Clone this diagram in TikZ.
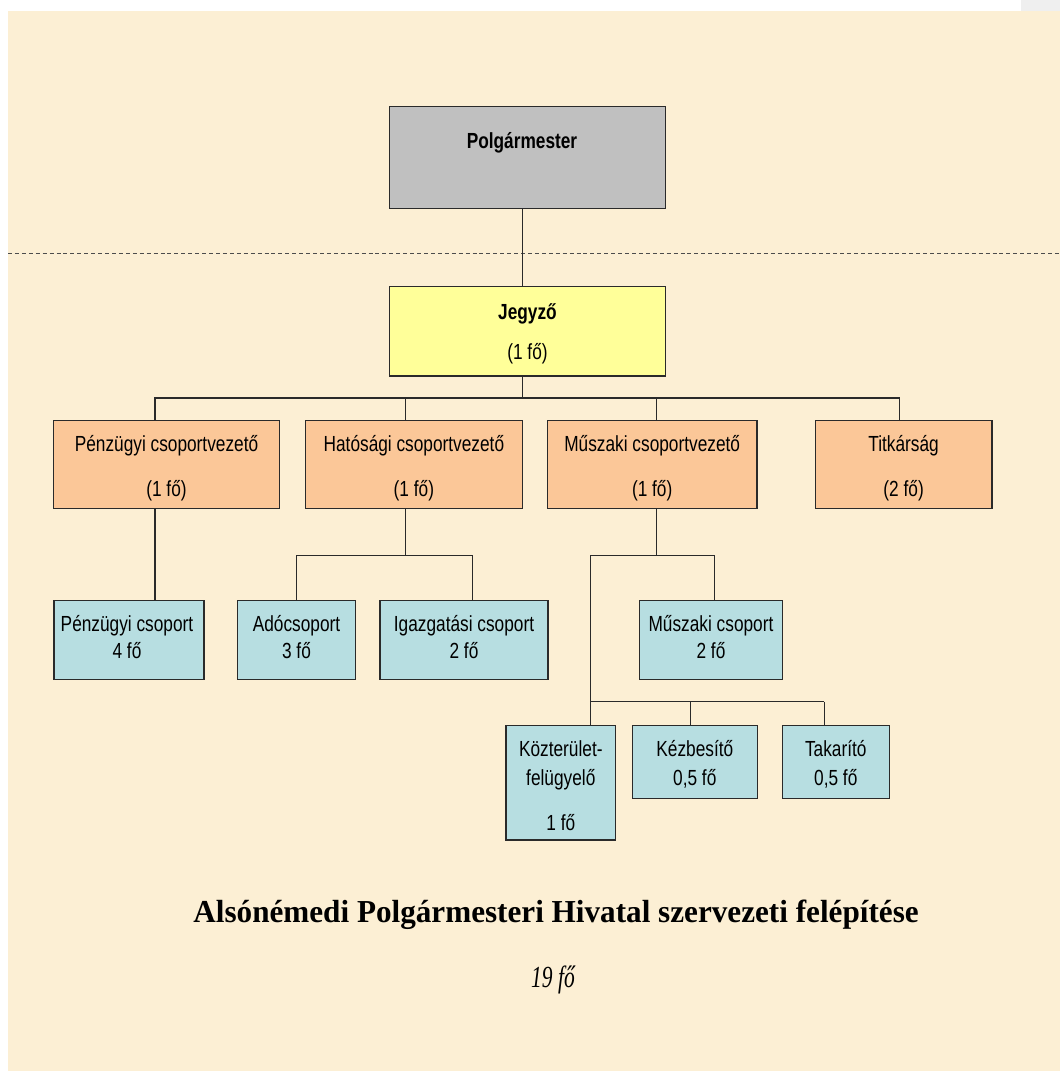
\documentclass[tikz,border=0pt]{standalone}
\usepackage{fontspec}
\usetikzlibrary{fit}
\newfontfamily\boxfont[FakeStretch=0.79]{Liberation Sans}
\newfontfamily\titlefont[FakeStretch=0.974]{Liberation Serif}
\newfontfamily\numfont[FakeStretch=0.7]{Liberation Serif}
\definecolor{parch}{HTML}{FCEFD4}
\definecolor{stripgray}{HTML}{EFEFEF}
\definecolor{pmgray}{HTML}{C0C0C0}
\definecolor{jyellow}{HTML}{FFFF99}
\definecolor{orangebox}{HTML}{FBC798}
\definecolor{bluebox}{HTML}{B7DEE1}
\definecolor{edge}{HTML}{2A2A2A}
\tikzset{
  box/.style={draw=edge, line width=1.1pt, inner sep=0pt},
  conn/.style={draw=edge, line width=0.9pt},
  lbl/.style={anchor=base, inner sep=0pt, font=\boxfont\fontsize{16.4}{20}\selectfont, text=black},
  blbl/.style={lbl, font=\boxfont\bfseries\fontsize{16.4}{20}\selectfont},
}
\begin{document}
\begin{tikzpicture}[x=0.75pt, y=-0.75pt]
\useasboundingbox (0,0) rectangle (1060,1071);
% background
\fill[white] (0,0) rectangle (1060,1071);
\fill[parch] (8,11) rectangle (1060,1071);
\fill[stripgray] (1021,0) rectangle (1060,11);
% dashed separator
\draw[draw=black!70, line width=0.8pt, dash pattern=on 3pt off 2.2pt] (8,253.3) -- (1060,253.3);

% boxes
\node[box, fill=pmgray, fit={(389.3,106.7) (665.7,208.3)}] (pm) {};
\node[box, fill=jyellow, fit={(389.3,286.7) (665.7,376)}] (jg) {};
\node[box, fill=orangebox, fit={(53.4,420.7) (279.6,508.3)}] (pcv) {};
\node[box, fill=orangebox, fit={(305.4,420.7) (522.4,508.3)}] (hcv) {};
\node[box, fill=orangebox, fit={(547.5,420.7) (756.9,508.3)}] (mcv) {};
\node[box, fill=orangebox, fit={(815.5,420.7) (991.8,508.3)}] (tit) {};
\node[box, fill=bluebox, fit={(54,600.7) (204,679.3)}] (pcs) {};
\node[box, fill=bluebox, fit={(237.6,600.7) (355.4,679.3)}] (ado) {};
\node[box, fill=bluebox, fit={(380.2,600.7) (548,679.3)}] (igaz) {};
\node[box, fill=bluebox, fit={(639.5,600.7) (782.4,679.3)}] (mcs) {};
\node[box, fill=bluebox, fit={(506,725.7) (615.7,840)}] (kozt) {};
\node[box, fill=bluebox, fit={(632.3,725.7) (757.3,798.3)}] (kez) {};
\node[box, fill=bluebox, fit={(782.3,725.7) (889.3,798.3)}] (tak) {};

% connector coordinates
\coordinate (b0) at (522.7,398);
\coordinate (c1) at (155,398);
\coordinate (c2) at (405.6,398);
\coordinate (c3) at (656.4,398);
\coordinate (c4) at (899.8,398);
\coordinate (h0) at (405.6,555.7);
\coordinate (ha) at (296.1,555.7);
\coordinate (hb) at (472.1,555.7);
\coordinate (m0) at (656.4,555.7);
\coordinate (ma) at (590.6,555.7);
\coordinate (mb) at (714.6,555.7);
\coordinate (k0) at (590.6,701.7);
\coordinate (k2) at (690.3,701.7);
\coordinate (k3) at (824.3,701.7);

% connectors
\draw[conn] (pm.south -| b0) -- (jg.north -| b0);
\draw[conn] (jg.south -| b0) -- (b0);
\draw[conn] (pcv.north -| c1) -- (c1) -- (c4) -- (tit.north -| c4);
\draw[conn] (c2) -- (hcv.north -| c2);
\draw[conn] (c3) -- (mcv.north -| c3);
\draw[conn] (pcv.south -| c1) -- (pcs.north -| c1);
\draw[conn] (hcv.south -| h0) -- (h0);
\draw[conn] (ado.north -| ha) -- (ha) -- (hb) -- (igaz.north -| hb);
\draw[conn] (mcv.south -| m0) -- (m0);
\draw[conn] (kozt.north -| ma) -- (ma) -- (mb) -- (mcs.north -| mb);
\draw[conn] (k0) -- (k3);
\draw[conn] (k2) -- (kez.north -| k2);
\draw[conn] (k3) -- (tak.north -| k3);

% labels
\node[blbl] (tpm) at (522,148) {Polgármester};
\node[blbl] (tjg1) at (527.5,319) {Jegyző};
\node[lbl] (tjg2) at (527.5,359) {(1 fő)};
\node[lbl] (tpcv1) at (166.5,451) {Pénzügyi csoportvezető};
\node[lbl] (tpcv2) at (166.5,496) {(1 fő)};
\node[lbl] (thcv1) at (413.9,451) {Hatósági csoportvezető};
\node[lbl] (thcv2) at (413.9,496) {(1 fő)};
\node[lbl] (tmcv1) at (652.2,451) {Műszaki csoportvezető};
\node[lbl] (tmcv2) at (652.2,496) {(1 fő)};
\node[lbl] (ttit1) at (903.6,451) {Titkárság};
\node[lbl] (ttit2) at (903.6,496) {(2 fő)};
\node[lbl] (tpcs1) at (127,631.7) {Pénzügyi csoport};
\node[lbl] (tpcs2) at (127,658) {4 fő};
\node[lbl] (tado1) at (296.5,631.7) {Adócsoport};
\node[lbl] (tado2) at (296.5,658) {3 fő};
\node[lbl] (tigaz1) at (464,631.7) {Igazgatási csoport};
\node[lbl] (tigaz2) at (464,658) {2 fő};
\node[lbl] (tmcs1) at (711,631.7) {Műszaki csoport};
\node[lbl] (tmcs2) at (711,658) {2 fő};
\node[lbl] (tkozt1) at (560.8,756.7) {Közterület-};
\node[lbl] (tkozt2) at (560.8,785) {felügyelő};
\node[lbl] (tkozt3) at (560.8,830) {1 fő};
\node[lbl] (tkez1) at (694.8,756.7) {Kézbesítő};
\node[lbl] (tkez2) at (694.8,785) {0,5 fő};
\node[lbl] (ttak1) at (835.8,756.7) {Takarító};
\node[lbl] (ttak2) at (835.8,785) {0,5 fő};

% title
\node[anchor=base, inner sep=0pt, font=\titlefont\bfseries\fontsize{24}{28}\selectfont] (title) at (556,922) {Alsónémedi Polgármesteri Hivatal szervezeti felépítése};
\node[anchor=base, inner sep=0pt, font=\numfont\itshape\fontsize{23}{27}\selectfont] (total) at (553,987) {19 fő};
\end{tikzpicture}
\end{document}
